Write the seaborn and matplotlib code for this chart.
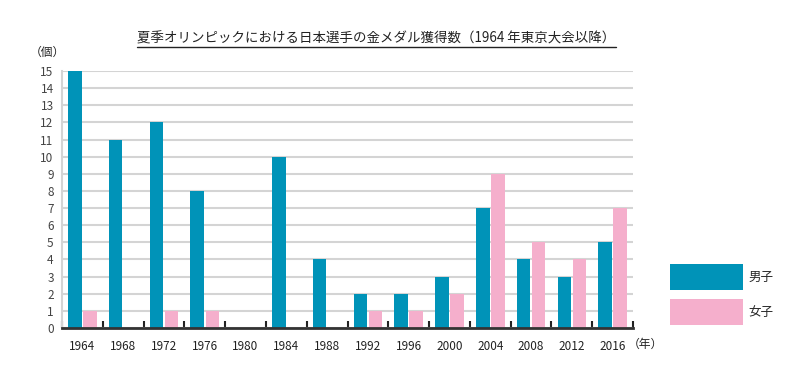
import numpy as np
import pandas as pd
import matplotlib
matplotlib.use("Agg")
import matplotlib.pyplot as plt
import seaborn as sns
from matplotlib.lines import Line2D

# gold medals per games
years = ["1964", "1968", "1972", "1976", "1980", "1984", "1988",
         "1992", "1996", "2000", "2004", "2008", "2012", "2016"]
men = [15, 11, 12, 8, 0, 10, 4, 2, 2, 3, 7, 4, 3, 5]
women = [1, 0, 1, 1, 0, 0, 0, 1, 1, 2, 9, 5, 4, 7]
series = ["男子", "女子"]
colors = ["#0093b8", "#f5afcc"]
yticks = list(range(0, 16))

title = "夏季オリンピックにおける日本選手の金メダル獲得数（1964 年東京大会以降）"

df = pd.DataFrame({
    "year": years * 2,
    "gender": [series[0]] * len(years) + [series[1]] * len(years),
    "count": men + women,
})

sns.set_theme(style="white")
plt.rcParams['font.family'] = ['Noto Sans CJK JP', 'DejaVu Sans']

fig = plt.figure(figsize=(8, 3.8), dpi=100)
ax = fig.add_axes([0.0775, 0.137, 0.7138, 0.676])

sns.barplot(data=df, x="year", y="count", hue="gender",
            palette=dict(zip(series, colors)), saturation=1,
            width=0.74, gap=0.1, linewidth=0, ax=ax)

ax.set_xlim(-0.5, len(years) - 0.5)
ax.set_ylim(0, 15)
ax.set_yticks(yticks)
ax.set_xlabel("")
ax.set_ylabel("")

# grid + spines
ax.yaxis.grid(True, color="#d4d4d4", lw=1.5)
ax.set_axisbelow(True)
for s in ["top", "right"]:
    ax.spines[s].set_visible(False)
ax.spines["left"].set_color("#d4d4d4")
ax.spines["left"].set_linewidth(1.5)
ax.spines["bottom"].set_color("#333333")
ax.spines["bottom"].set_linewidth(2)

# little ticks between the groups
ax.set_xticks(np.arange(-0.5, len(years), 1), minor=True)
ax.tick_params(axis="x", which="minor", bottom=True, direction="in",
               length=5, width=1.5, color="#222222")
ax.tick_params(axis="x", which="major", length=0, pad=8.5,
               labelsize=8.5, labelcolor="#222222")
ax.tick_params(axis="y", length=0, pad=6, labelsize=8.5, labelcolor="#444444")

# legend out on the right
handles, labels = ax.get_legend_handles_labels()
ax.get_legend().remove()
fig.legend(handles, labels, loc="upper left", bbox_to_anchor=(0.8375, 0.305),
           frameon=False, handlelength=5.8, handleheight=2.82,
           labelspacing=0.7, handletextpad=0.5, borderpad=0,
           borderaxespad=0, fontsize=9)

fig.text(47 / 800, 1 - 52 / 380, "（個）", ha="center", va="center",
         fontsize=8.5, color="#222222")
fig.text(645 / 800, 1 - 344 / 380, "（年）", ha="center", va="center",
         fontsize=8.5, color="#222222")

t = fig.text(0.4706, 1 - 38 / 380, title, ha="center", va="center",
             fontsize=9.7, color="#222222")

# underline the title
fig.canvas.draw()
bb = t.get_window_extent(renderer=fig.canvas.get_renderer())
W, H = fig.bbox.width, fig.bbox.height
uy = (bb.y0 - 1.5) / H
fig.add_artist(Line2D([bb.x0 / W, bb.x1 / W], [uy, uy],
                      transform=fig.transFigure, color="#222222", lw=1))

fig.savefig("out.png", dpi=100)
